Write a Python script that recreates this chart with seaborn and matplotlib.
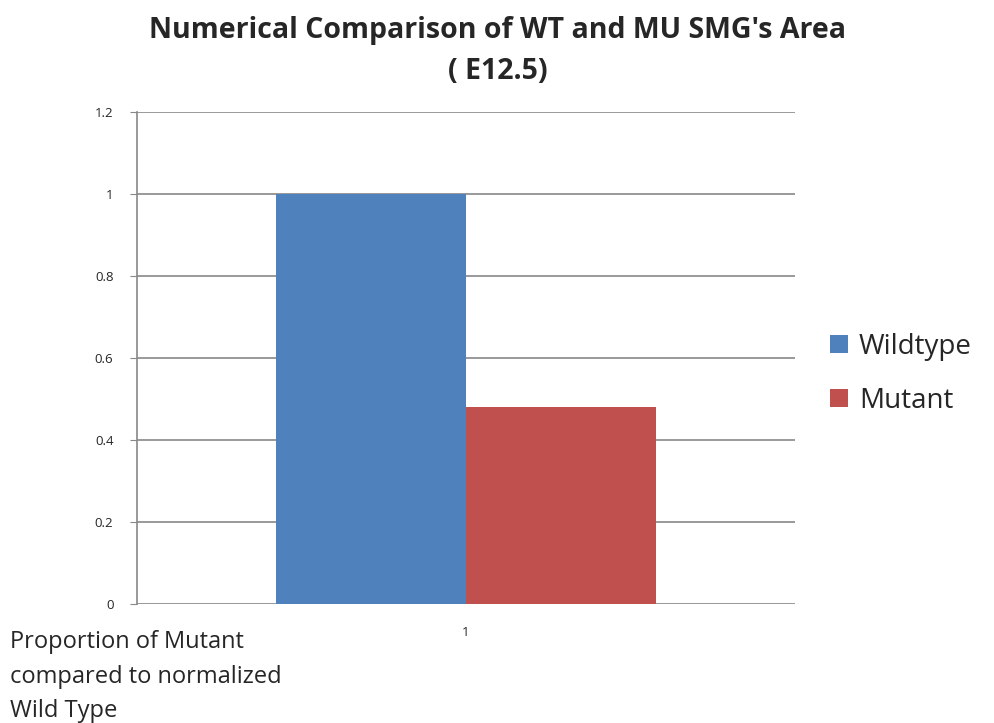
import seaborn as sns
import matplotlib.pyplot as plt
import pandas as pd

categories = ["1"]
groups = ["Wildtype", "Mutant"]
values = [1.0, 0.48]
colors = ["#4F81BD", "#C0504D"]

data = pd.DataFrame({"cat": categories * 2, "group": groups, "value": values})

sns.set_style("white")
plt.rcParams['font.family'] = ['Open Sans', 'DejaVu Sans']

fig = plt.figure(figsize=(9.95, 7.23), dpi=100)
ax = fig.add_axes([0.1377, 0.1646, 0.6613, 0.6805])
sns.barplot(x="cat", y="value", hue="group", data=data, palette=colors,
            width=0.578, saturation=1, linewidth=0, ax=ax, legend=True)

ax.set_ylim(0, 1.2)
ax.set_yticks([0, 0.2, 0.4, 0.6, 0.8, 1, 1.2])
ax.set_yticklabels(["0", "0.2", "0.4", "0.6", "0.8", "1", "1.2"], fontsize=9.5)
ax.set_xlim(-0.5, 0.5)
ax.set_xticks([0])
ax.set_xticklabels(["1"], fontsize=9.5)
ax.set_axisbelow(True)
ax.yaxis.grid(True, color="#888888", linewidth=1.2)
for s in ["top", "right", "bottom"]:
    ax.spines[s].set_visible(False)
ax.spines["left"].set_color("#888888")
ax.spines["left"].set_linewidth(1.2)
ax.tick_params(axis="y", left=True, length=5, color="#888888", pad=12)
ax.tick_params(axis="x", bottom=False, pad=12)
ax.set_xlabel("")
ax.set_ylabel("")

ax.legend(loc="center left", bbox_to_anchor=(1.053, 0.468), frameon=False,
          fontsize=20, handlelength=0.65, handleheight=0.65, labelspacing=0.95,
          handletextpad=0.4, borderaxespad=0, borderpad=0)

fig.text(0.5, 0.978, "Numerical Comparison of WT and MU SMG's Area\n( E12.5)",
         ha="center", va="top", fontsize=20.5, fontweight="bold", linespacing=1.55)
fig.text(0.01, 0.129, "Proportion of Mutant\ncompared to normalized\nWild Type",
         ha="left", va="top", fontsize=17, linespacing=1.6)

fig.savefig("out.png", dpi=100)
